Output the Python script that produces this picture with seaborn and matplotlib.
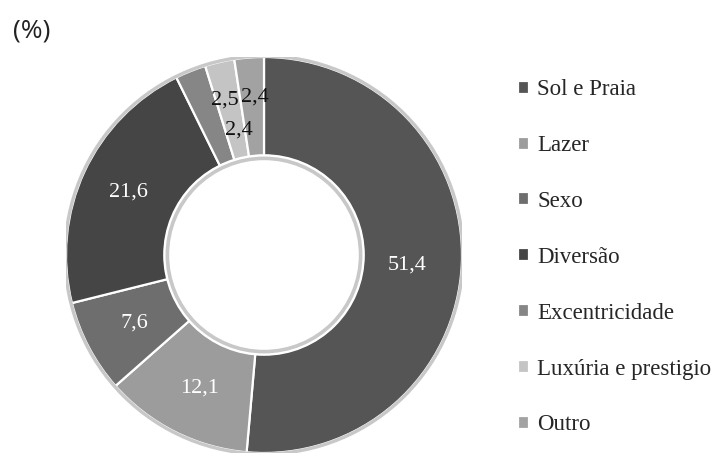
import numpy as np
import matplotlib
matplotlib.use("Agg")
import matplotlib.pyplot as plt
from matplotlib.patches import Circle
import seaborn as sns

# DATA
categories = ["Sol e Praia", "Lazer", "Sexo", "Diversão",
              "Excentricidade", "Luxúria e prestigio", "Outro"]
values = [51.4, 12.1, 7.6, 21.6, 2.5, 2.4, 2.4]
value_labels = ["51,4", "12,1", "7,6", "21,6", "2,5", "2,4", "2,4"]

# STYLE
colors = ["#555555", "#9c9c9c", "#6e6e6e", "#454545", "#868686", "#c4c4c4", "#a2a2a2"]
text_colors = ["white", "white", "white", "white", "#111111", "#111111", "#111111"]
label_r = [0.725, 0.745, 0.737, 0.755, 0.807, 0.645, 0.80]
label_shift = [-1.5, 1, 0, 0, -7.7, -1.4, -1]   # degrees

sns.set_theme(style="white")
plt.rcParams["font.family"] = ["Liberation Serif", "DejaVu Serif"]

fig = plt.figure(figsize=(7.17, 4.58), dpi=100)
ax = fig.add_axes([66 / 717, 5 / 458, 396 / 717, 396 / 458])

wedges, _ = ax.pie(values, colors=colors, startangle=90, counterclock=False,
                   radius=1.0,
                   wedgeprops=dict(width=0.5, edgecolor="white", linewidth=1.6))

# bevel-like rims
ax.add_patch(Circle((0, 0), 1.005, fill=False, edgecolor="#c8c8c8", lw=2.4))
ax.add_patch(Circle((0, 0), 0.488, fill=False, edgecolor="#c8c8c8", lw=2.6))
ax.add_patch(Circle((0, 0), 0.505, fill=False, edgecolor="white", lw=1.2))

for w, lab, tc, r, sh in zip(wedges, value_labels, text_colors, label_r, label_shift):
    ang = np.deg2rad((w.theta1 + w.theta2) / 2 + sh)
    ax.text(r * np.cos(ang), r * np.sin(ang), lab, ha="center", va="center",
            fontsize=16, color=tc)

ax.set_xlim(-1, 1)
ax.set_ylim(-1, 1)
ax.set_aspect("equal")
ax.axis("off")

fig.legend(wedges, categories, loc="center left", bbox_to_anchor=(0.722, 0.438),
           frameon=False, fontsize=16.5, handlelength=0.5, handleheight=0.5,
           handletextpad=0.35, labelspacing=1.52, borderpad=0, borderaxespad=0)

fig.text(13 / 717, 1 - 31 / 458, "(%)", fontsize=19, va="center", ha="left",
         family=["Open Sans", "DejaVu Sans"], color="#222222")

fig.savefig("out.png", dpi=100)
plt.close()
